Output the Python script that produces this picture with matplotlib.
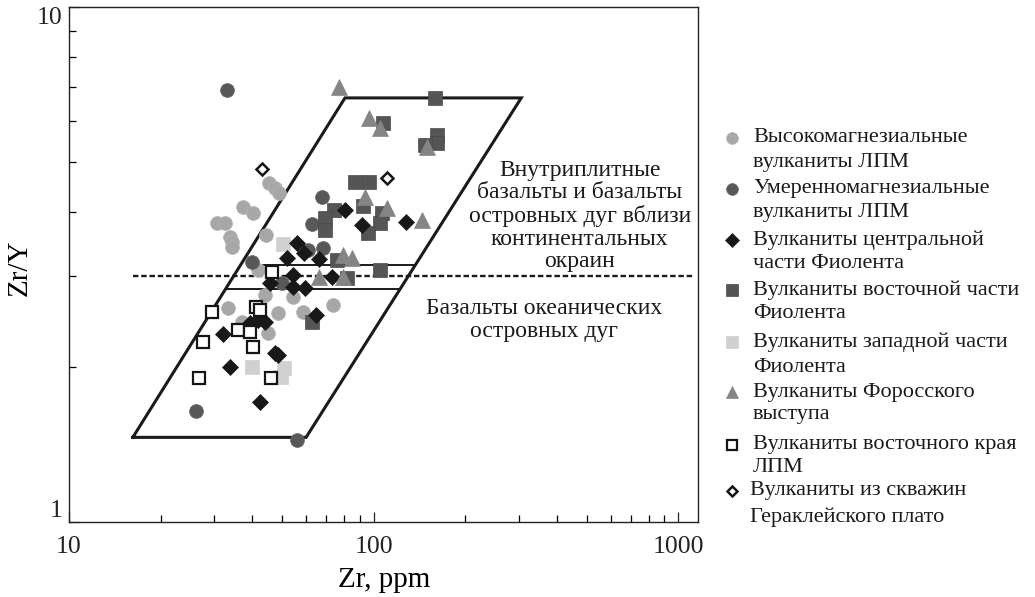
import matplotlib
matplotlib.use("Agg")
import matplotlib.pyplot as plt
from matplotlib.lines import Line2D
from matplotlib.ticker import NullFormatter

plt.rcParams['font.family'] = ['Liberation Serif', 'DejaVu Serif']

# ---- data (Zr ppm, Zr/Y) ----
himg_zr = [45.4, 47.5, 48.9, 37.3, 40.2, 30.6, 32.5, 33.8, 34.3, 34.3, 44.4, 44.0, 54.4,
           33.3, 37.0, 48.6, 58.7, 73.6, 45.0, 41.8]
himg_r = [4.55, 4.45, 4.35, 4.09, 3.98, 3.81, 3.81, 3.58, 3.50, 3.42, 3.61, 2.76, 2.73,
          2.60, 2.44, 2.55, 2.56, 2.64, 2.33, 3.09]

modmg_zr = [33.0, 67.7, 62.8, 68.2, 60.9, 39.9, 50.1, 26.1, 56.1]
modmg_r = [6.90, 4.28, 3.79, 3.40, 3.37, 3.20, 2.91, 1.64, 1.44]

central_zr = [80.6, 91.7, 127.9, 56.1, 59.1, 52.0, 66.2, 54.4, 73.1, 45.7, 54.4, 59.6,
              64.7, 32.0, 39.3, 41.8, 44.0, 47.5, 48.6, 33.8, 42.4]
central_r = [4.03, 3.77, 3.82, 3.48, 3.33, 3.26, 3.24, 3.02, 2.99, 2.91, 2.86, 2.85,
             2.52, 2.32, 2.43, 2.47, 2.44, 2.13, 2.11, 2.00, 1.71]

east_zr = [159.2, 107.4, 161.6, 161.6, 147.6, 86.9, 96.6, 74.2, 69.3, 69.3, 92.4, 106.6,
           105.0, 96.0, 75.9, 81.8, 105.0, 62.8]
east_r = [6.66, 5.95, 5.64, 5.44, 5.40, 4.57, 4.57, 4.03, 3.89, 3.69, 4.11, 3.98,
          3.81, 3.64, 3.23, 2.98, 3.09, 2.44]

west_zr = [50.4, 39.9, 50.8, 49.7]
west_r = [3.47, 2.00, 1.99, 1.91]

foros_zr = [77.1, 96.6, 105.0, 149.9, 93.8, 110.7, 144.3, 79.4, 85.0, 66.2, 79.4]
foros_r = [6.99, 6.09, 5.82, 5.35, 4.28, 4.07, 3.86, 3.30, 3.26, 2.99, 2.99]

edge_zr = [46.4, 29.5, 41.1, 42.4, 35.9, 39.3, 27.5, 40.2, 26.7, 46.1]
edge_r = [3.06, 2.56, 2.62, 2.58, 2.36, 2.34, 2.24, 2.19, 1.90, 1.90]

wells_zr = [43.0, 110.7]
wells_r = [4.84, 4.66]

# field boundaries
field_zr = [16.2, 60.0, 305.0, 80.5, 16.2]
field_r = [1.46, 1.46, 6.66, 6.66, 1.46]
upper_zr = [43.4, 136.0]
upper_r = [3.16, 3.16]
lower_zr = [32.7, 121.0]
lower_r = [2.83, 2.83]
div_zr = [16.2, 1120.0]
div_r = [3.0, 3.0]

legend_labels = [
    ("Высокомагнезиальные", "вулканиты ЛПМ"),
    ("Умеренномагнезиальные", "вулканиты ЛПМ"),
    ("Вулканиты центральной", "части Фиолента"),
    ("Вулканиты восточной части", "Фиолента"),
    ("Вулканиты западной части", "Фиолента"),
    ("Вулканиты Форосского", "выступа"),
    ("Вулканиты восточного края", "ЛПМ"),
    ("Вулканиты из скважин", "Гераклейского плато"),
]

W, H = 1035, 597
fig = plt.figure(figsize=(W / 100, H / 100), dpi=100)
ax = fig.add_axes([69 / W, 1 - 522 / H, (698 - 69) / W, (522 - 7) / H])
ax.set_xscale('log')
ax.set_yscale('log')
ax.set_xlim(10, 1160)
ax.set_ylim(1, 10)

# lines
ax.plot(field_zr, field_r, color='#1a1a1a', lw=2.2, zorder=2, solid_joinstyle='miter')
ax.plot(upper_zr, upper_r, color='#1a1a1a', lw=1.4, zorder=2)
ax.plot(lower_zr, lower_r, color='#1a1a1a', lw=1.4, zorder=2)
ax.plot(div_zr, div_r, color='#1a1a1a', lw=1.7, ls=(0, (2.3, 1.2)), zorder=2)

styles = [
    (himg_zr, himg_r, dict(marker='o', ms=10, mfc='#a7a7a7', mec='#b5b5b5', mew=0.5)),
    (modmg_zr, modmg_r, dict(marker='o', ms=10, mfc='#585858', mec='#6a6a6a', mew=0.5)),
    (west_zr, west_r, dict(marker='s', ms=9.5, mfc='#d0d0d0', mec='#d0d0d0', mew=0.5)),
    (east_zr, east_r, dict(marker='s', ms=9.5, mfc='#555555', mec='#4a4a4a', mew=0.5)),
    (central_zr, central_r, dict(marker='D', ms=8, mfc='#181818', mec='#181818', mew=0.5)),
    (foros_zr, foros_r, dict(marker='^', ms=11, mfc='#858585', mec='#858585', mew=0.5)),
    (edge_zr, edge_r, dict(marker='s', ms=9, mfc='white', mec='#151515', mew=1.6)),
    (wells_zr, wells_r, dict(marker='D', ms=6.5, mfc='white', mec='#151515', mew=1.8)),
]
for i, (xs, ys, st) in enumerate(styles):
    ax.plot(xs, ys, ls='none', zorder=3 + i, **st)

ax.set_xticks([10, 100, 1000])
ax.set_xticklabels(['10', '100', '1000'])
ax.set_yticks([1, 10])
ax.set_yticklabels(['1', '10'])
ax.xaxis.set_minor_formatter(NullFormatter())
ax.yaxis.set_minor_formatter(NullFormatter())
ax.tick_params(axis='both', which='major', direction='in', length=7, width=0.9,
               labelsize=18.5, colors='#222222', top=False, right=False)
ax.tick_params(axis='both', which='minor', direction='in', length=5, width=0.9,
               top=False, right=False)
ax.tick_params(axis='x', which='major', pad=10)
ax.tick_params(axis='y', which='major', pad=5)
ylabs = ax.get_yticklabels()
ylabs[0].set_va('bottom')
ylabs[1].set_va('top')
for sp in ax.spines.values():
    sp.set_linewidth(1.0)
    sp.set_color('#222222')

ax.set_xlabel('Zr, ppm', fontsize=21, va='center')
ax.xaxis.set_label_coords(0.5008, -0.1126)
ax.set_ylabel('Zr/Y', fontsize=21, va='center')
ax.yaxis.set_label_coords(-0.078, 0.493)

ax.text(0.812, 0.594, "Внутриплитные\nбазальты и базальты\nостровных дуг вблизи\nконтинентальных\nокраин",
        transform=ax.transAxes, ha='center', va='center', fontsize=17, linespacing=1.1,
        color='#1a1a1a')
ax.text(0.755, 0.392, "Базальты океанических\nостровных дуг",
        transform=ax.transAxes, ha='center', va='center', fontsize=17, linespacing=1.1,
        color='#1a1a1a')

# legend (manual)
leg_y1 = [138, 189, 240, 290, 342, 392, 445, 491]
leg_y2 = [162, 213, 263, 313, 367, 415, 467, 517]
leg_st = [styles[0][2], styles[1][2], styles[4][2], styles[3][2], styles[2][2],
          styles[5][2], styles[6][2], styles[7][2]]
for k, ((l1, l2), st) in enumerate(zip(legend_labels, leg_st)):
    st2 = dict(st)
    st2['ms'] = st['ms'] * 0.85
    tx = 753 if k < 7 else 750
    fig.add_artist(Line2D([732 / W], [1 - leg_y1[k] / H], ls='none', transform=fig.transFigure, **st2))
    fig.text(tx / W, 1 - leg_y1[k] / H, l1, ha='left', va='center', fontsize=16, color='#1a1a1a')
    fig.text(tx / W, 1 - leg_y2[k] / H, l2, ha='left', va='center', fontsize=16, color='#1a1a1a')

fig.savefig('out.png', dpi=100)
